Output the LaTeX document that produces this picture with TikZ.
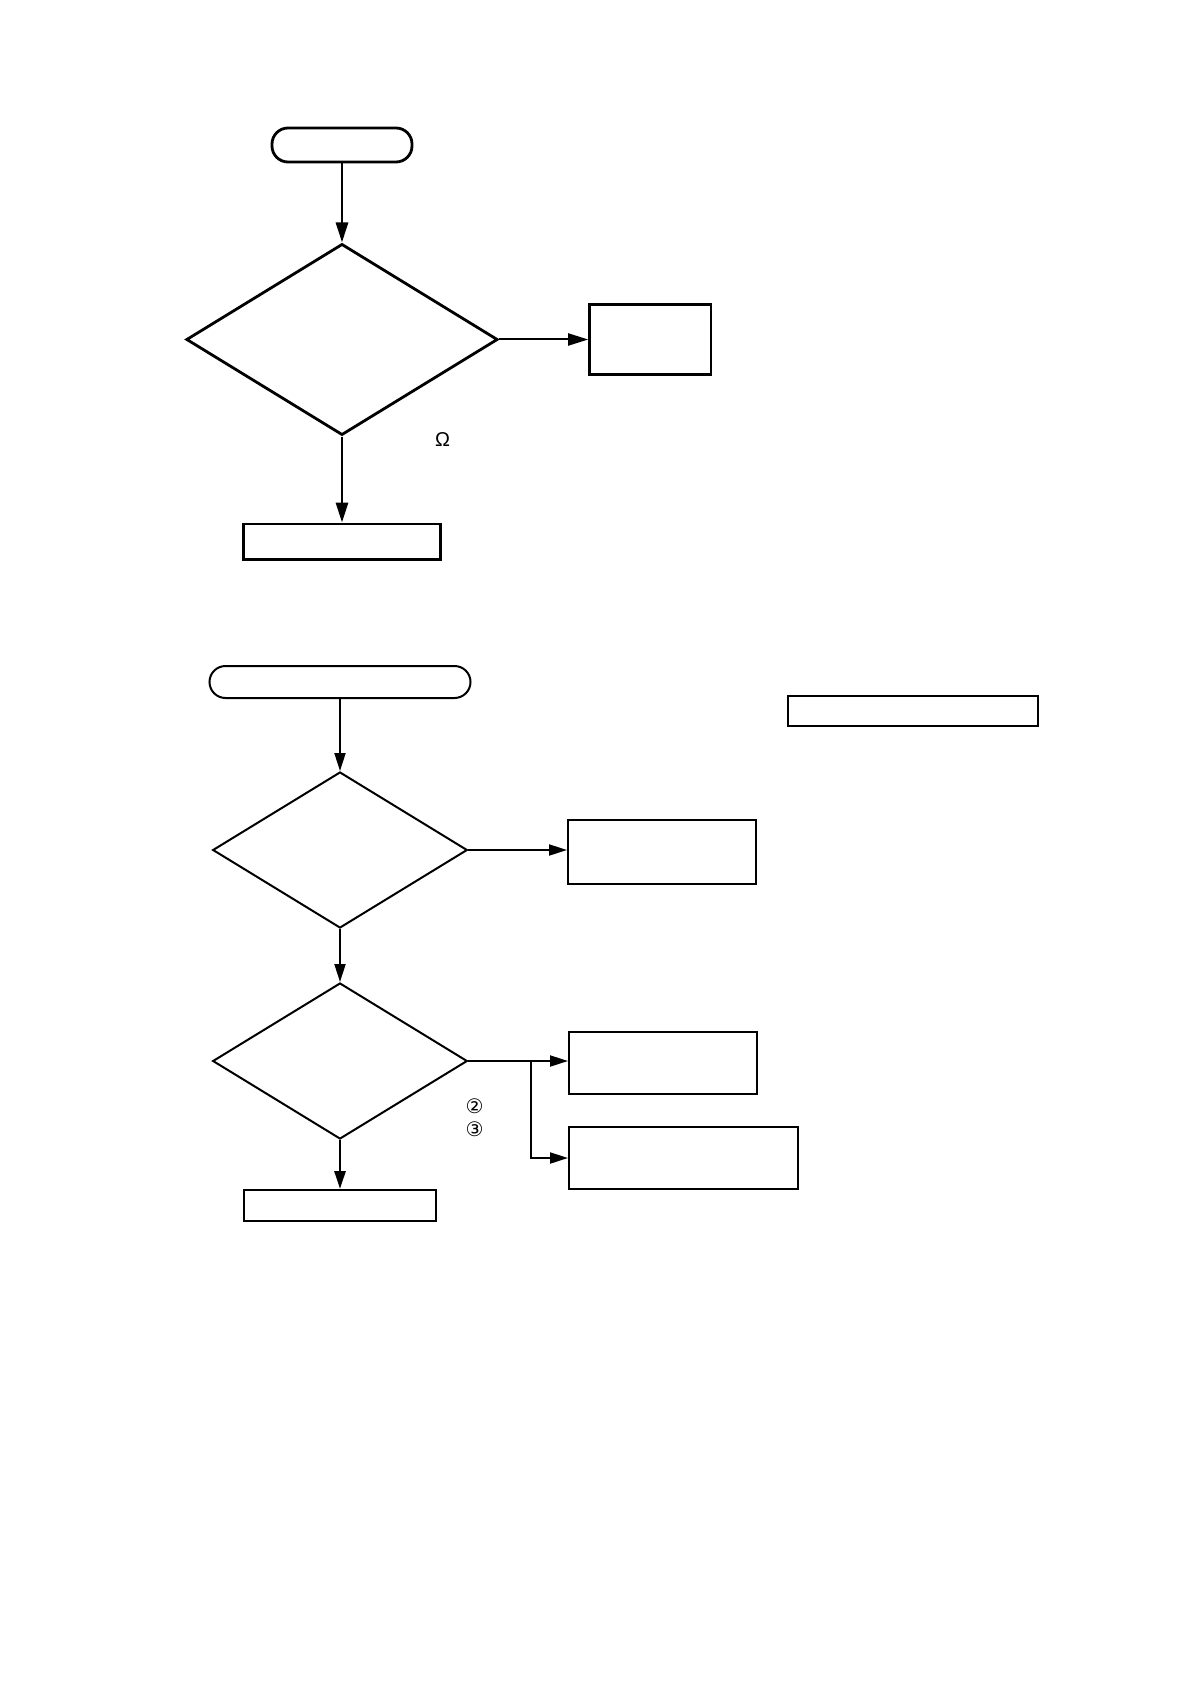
\documentclass[tikz,border=0pt]{standalone}
\usepackage{fontspec}
\setmainfont{Liberation Sans}
\newfontfamily\symfont{DejaVu Sans}
\usetikzlibrary{shapes.geometric,arrows.meta}

\begin{document}
\begin{tikzpicture}[
		x=0.5pt, y=-0.5pt, font=\fontsize{10}{12}\selectfont,
		line join=miter, >={Triangle[length=9pt,width=5.5pt]},
		box/.style={draw, rectangle, inner sep=0pt},
		term/.style={draw, rectangle, rounded corners=8pt, inner sep=0pt},
		test/.style={draw, diamond, inner sep=0pt},
		heavy/.style={line width=1.4pt},
		light/.style={line width=1pt},
		bigtip/.style={-{Triangle[length=10pt,width=6pt]}}
		]
		\useasboundingbox (0,0) rectangle (1190,1684);
		% upper chart
		\begin{scope}[heavy]
			\node[term, minimum width=70pt, minimum height=17pt] (t1) at (342,145) {};
			\node[test, minimum width=155.7pt, minimum height=95.6pt] (d1) at (342,339.5) {};
			\node[box, minimum width=60.7pt, minimum height=35pt] (r1) at (650.3,339.5) {};
			\node[box, minimum width=98.3pt, minimum height=17.8pt] (b1) at (342,541.8) {};
			\node (ohm) at (442.5,440) {Ω};
			\draw[bigtip] (t1) -- (d1);
			\draw[bigtip, light] (d1.east) -- (d1.east -| r1.west);
			\draw[bigtip] (d1) -- (b1);
		\end{scope}
		% lower chart
		\begin{scope}[light]
			\node[term, minimum width=130.5pt, minimum height=16pt] (t2) at (340,682) {};
			\node[box, minimum width=124.6pt, minimum height=15pt] (note) at (913,711) {};
			\node[test, minimum width=127.3pt, minimum height=78pt] (d2) at (340,850) {};
			\node[box, minimum width=94pt, minimum height=31.8pt] (r2) at (662,852) {};
			\node[test, minimum width=127.3pt, minimum height=78pt] (d3) at (340,1061) {};
			\node[box, minimum width=94pt, minimum height=31pt] (r3) at (663,1063) {};
			\node[box, minimum width=114.5pt, minimum height=31.2pt] (r4) at (683.5,1158) {};
			\node[box, minimum width=96pt, minimum height=15.5pt] (b2) at (340,1205.5) {};
			\node (c2) at (474.7,1106) {\symfont ②};
			\node (c3) at (474.7,1129) {\symfont ③};
			\coordinate (fork) at (530.6,1061);
			\draw[->] (t2) -- (d2);
			\draw[->] (d2.east) -- (d2.east -| r2.west);
			\draw[->] (d2) -- (d3);
			\draw[->] (d3.east) -- (d3.east -| r3.west);
			\draw[->] (fork) |- (r4.west);
			\draw[->, heavy] (d3) -- (b2);
		\end{scope}
\end{tikzpicture}
\end{document}
